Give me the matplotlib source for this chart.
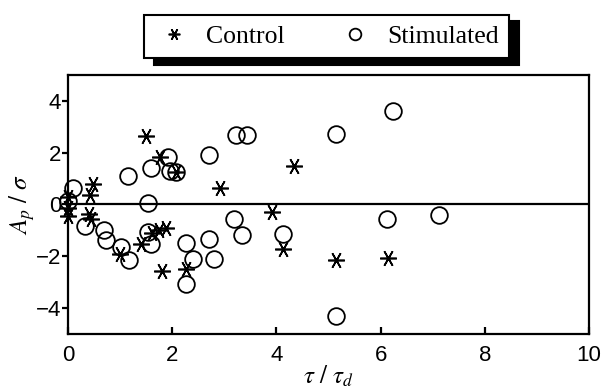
import matplotlib
matplotlib.use('Agg')
import matplotlib.pyplot as plt

# amplitude ratio vs normalised delay, two groups
ctrl_x = [0.0, 0.0, 0.0, 0.48, 0.42, 0.40, 0.45, 0.99, 1.41, 1.49, 1.62, 1.75,
          1.88, 1.76, 1.81, 2.08, 2.26, 2.92, 3.92, 4.13, 4.34, 5.14, 6.14]
ctrl_y = [0.30, -0.15, -0.45, 0.78, 0.35, -0.35, -0.55, -1.92, -1.53, 2.63, -1.10, -1.00,
          -0.90, 1.82, -2.56, 1.26, -2.49, 0.62, -0.29, -1.72, 1.48, -2.15, -2.05]

stim_x = [0.0, 0.09, 0.32, 0.70, 0.72, 1.02, 1.15, 1.18, 1.53, 1.53, 1.60, 1.60,
          1.92, 1.95, 2.08, 2.26, 2.26, 2.40, 2.71, 2.71, 2.81, 3.18, 3.22, 3.33,
          3.44, 4.13, 5.14, 5.14, 6.13, 6.23, 7.12]
stim_y = [0.15, 0.65, -0.83, -0.97, -1.38, -1.66, 1.10, -2.15, 0.07, -1.08, 1.39, -1.53,
          1.83, 1.29, 1.26, -1.47, -3.07, -2.11, 1.93, -1.34, -2.11, -0.57, 2.70, -1.17,
          2.70, -1.12, 2.72, -4.29, -0.55, 3.60, -0.42]

xticks = [0, 2, 4, 6, 8, 10]
yticks = [-4, -2, 0, 2, 4]

plt.rcParams['mathtext.fontset'] = 'stix'
plt.rcParams['font.family'] = 'Liberation Sans'

fig = plt.figure(figsize=(6.03, 3.89), dpi=100)
ax = fig.add_axes([0.1128, 0.1414, 0.864, 0.6658])

ax.axhline(0, color='black', lw=1.6, zorder=1)
ax.plot(ctrl_x, ctrl_y, ls='none', marker=(6, 2, 30), ms=12, mec='black', mew=1.2,
        clip_on=False, label='Control', zorder=3)
ax.plot(stim_x, stim_y, ls='none', marker='o', ms=12, mfc='none', mec='black', mew=1.3,
        clip_on=False, label='Stimulated', zorder=3)

ax.set_xlim(0, 10)
ax.set_ylim(-5, 5)
ax.set_xticks(xticks)
ax.set_yticks(yticks)
ax.set_yticklabels(['\u22124', '\u22122', '0', '2', '4'])
for s in ax.spines.values():
    s.set_linewidth(1.6)
ax.tick_params(axis='x', direction='in', length=5, width=1.6, pad=8, labelsize=16)
ax.tick_params(axis='y', direction='out', length=4, width=1.6, pad=1, labelsize=16)

ax.set_xlabel(r'$\tau\ /\ \tau_d$', fontsize=18, va='center')
ax.xaxis.set_label_coords(0.5, -0.165)
ax.set_ylabel(r'$A_p\ /\ \sigma$', fontsize=18, va='center')
ax.yaxis.set_label_coords(-0.088, 0.5)

leg = ax.legend(loc='center', bbox_to_anchor=(0.542, 0.906), bbox_transform=fig.transFigure,
                ncol=2, prop={'family': 'Liberation Serif', 'size': 18.5},
                frameon=True, fancybox=False, edgecolor='black', framealpha=1,
                markerscale=0.7, handlelength=1.5, handletextpad=0.5,
                columnspacing=2.0, borderpad=0.4, borderaxespad=0,
                shadow={'color': 'black', 'ox': 7, 'oy': -4.5, 'alpha': 1})
leg.get_frame().set_linewidth(1.5)

fig.savefig('out.png', dpi=100)
